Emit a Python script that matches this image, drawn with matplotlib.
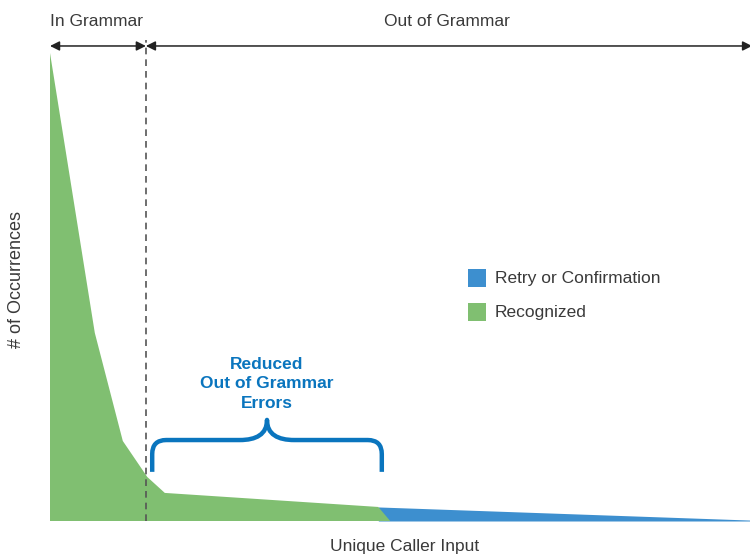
import matplotlib.pyplot as plt
from matplotlib.path import Path
from matplotlib.patches import PathPatch

plt.rcParams['font.family'] = ['Liberation Sans', 'DejaVu Sans']

# curve of occurrences against unique caller input (arbitrary units)
caller_x = [0, 6.4, 10.4, 13.9, 16.4, 46.9, 100]
occurrences = [100, 40.2, 17.1, 9.4, 6.0, 3.0, 0.2]
recognized_end = 48.6      # where the green area meets the baseline
grammar_split = 13.7       # in grammar / out of grammar boundary
brace_range = (14.6, 47.4)

green = '#80bf71'
blue = '#3d8fcf'
brace_blue = '#0a75be'
text_col = '#3a3a3a'

fig = plt.figure(figsize=(7.5, 5.55), dpi=100)
ax = fig.add_axes([50 / 750, 34 / 555, 700 / 750, 481 / 555])
ax.set_xlim(0, 100)
ax.set_ylim(0, 481 / 4.68)
ax.axis('off')

# retry/confirmation tail
ax.fill_between(caller_x[5:], occurrences[5:], 0, color=blue, lw=0)
# recognized part
gx = caller_x[:6] + [recognized_end, 0]
gy = occurrences[:6] + [0, 0]
ax.fill(gx, gy, color=green, lw=0)

# grammar split
ax.plot([grammar_split, grammar_split], [0, 481 / 4.68], ls=(0, (4, 3)),
        color='#555555', lw=1.2, clip_on=False)

arrow_y = 101.5
for a, b in [(0, grammar_split), (grammar_split, 100.3)]:
    ax.annotate('', xy=(b, arrow_y), xytext=(a, arrow_y),
                arrowprops=dict(arrowstyle='<|-|>', color='#222222', lw=1.1,
                                mutation_scale=14, shrinkA=0, shrinkB=0),
                annotation_clip=False)

fig.text(96 / 750, 1 - 22 / 555, 'In Grammar', ha='center', va='center',
         fontsize=12.5, color=text_col)
fig.text(447 / 750, 1 - 22 / 555, 'Out of Grammar', ha='center', va='center',
         fontsize=12.5, color=text_col)
fig.text(17 / 750, 1 - 280 / 555, '# of Occurrences', ha='center', va='center',
         rotation=90, fontsize=13, color=text_col)
fig.text(405 / 750, 1 - 546 / 555, 'Unique Caller Input', ha='center',
         va='center', fontsize=12.5, color=text_col)

# legend
for ypx, col, lab in [(278, blue, 'Retry or Confirmation'), (312, green, 'Recognized')]:
    fig.patches.append(plt.Rectangle((468 / 750, 1 - (ypx + 9) / 555), 18 / 750,
                                     18 / 555, transform=fig.transFigure,
                                     color=col, lw=0))
    fig.text(495 / 750, 1 - ypx / 555, lab, ha='left', va='center',
             fontsize=12.5, color=text_col)

# brace
xl, xr = brace_range
xm = (xl + xr) / 2
yb, yh, yt = 10.5, 17.3, 21.6
rx, ry = 2.0, 3.0
w = 3.9
verts = [(xl, yb), (xl, yh - ry), (xl, yh), (xl + rx, yh),
         (xm - w, yh), (xm - w / 2.5, yh), (xm, yh + 1.2), (xm, yt),
         (xm, yh + 1.2), (xm + w / 2.5, yh), (xm + w, yh),
         (xr - rx, yh), (xr, yh), (xr, yh - ry), (xr, yb)]
codes = [Path.MOVETO, Path.LINETO, Path.CURVE3, Path.CURVE3,
         Path.LINETO, Path.CURVE4, Path.CURVE4, Path.CURVE4,
         Path.CURVE4, Path.CURVE4, Path.CURVE4,
         Path.LINETO, Path.CURVE3, Path.CURVE3, Path.LINETO]
ax.add_patch(PathPatch(Path(verts, codes), fill=False, ec=brace_blue, lw=3.2,
                       capstyle='butt', joinstyle='round', clip_on=False))

ax.text(xm, 29.3, 'Reduced\nOut of Grammar\nErrors', ha='center', va='center',
        fontsize=12.5, fontweight='bold', color=brace_blue, linespacing=1.4)

fig.savefig('out.png', dpi=100)
